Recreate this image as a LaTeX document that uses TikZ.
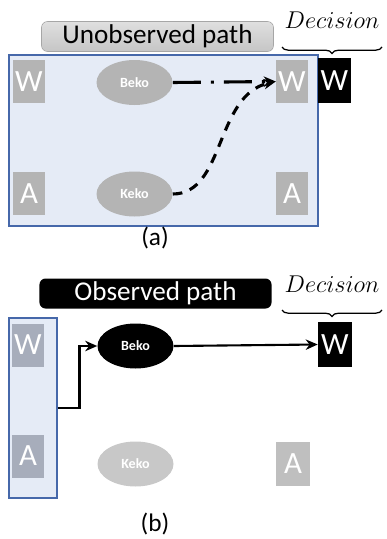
\documentclass[tikz,border=0pt]{standalone}
\usepackage{fontspec}
\setmainfont{Carlito}
\usepackage{tikz}
\usetikzlibrary{positioning,shapes.geometric,arrows.meta,decorations.pathreplacing}
\usepackage{xcolor}

\definecolor{boxgray}{RGB}{180,180,180}
\definecolor{dimgray}{RGB}{167,173,187}
\definecolor{palegray}{RGB}{200,200,200}
\definecolor{framefill}{RGB}{229,235,246}
\definecolor{frameline}{RGB}{70,104,170}

\begin{document}
\begin{tikzpicture}[x=0.25mm, y=-0.25mm,
    sq/.style={fill=boxgray, text=white, minimum width=8mm, minimum height=10.75mm,
        inner sep=0pt, font=\fontsize{22}{22}\selectfont},
    decbox/.style={sq, fill=black, minimum width=8.25mm, minimum height=11.25mm},
    agent/.style={ellipse, fill=boxgray, text=white, minimum width=19mm,
        minimum height=11.25mm, inner sep=0pt, font=\fontsize{10}{10}\selectfont\bfseries},
    frame/.style={draw=frameline, fill=framefill, line width=0.8pt},
    tag/.style={rounded corners=1.5mm, minimum width=58mm, minimum height=7.5mm,
        inner sep=0pt, font=\fontsize{19.3}{19}\selectfont},
    dec/.style={font=\fontsize{17.5}{17}\selectfont, inner sep=0pt},
    brace/.style={decorate, decoration={brace, amplitude=1.6mm}, line width=0.9pt},
    sub/.style={font=\fontsize{18}{18}\selectfont, inner sep=0pt},
    >={Stealth[length=3mm, width=2.6mm]}]
    \useasboundingbox (0,0) rectangle (386,539);

    % ---------- (a) unobserved path ----------
    \node[tag, draw=gray!70, top color=gray!25, bottom color=gray!45] (ulabel) at (157.5,36.5) {Unobserved path};
    \node[dec] (udec) at (332,20) {$Decision$};
    \coordinate (ubl) at (282,47);
    \coordinate (ubr) at (382,47);
    \draw[brace] (ubr) -- (ubl);

    % Frame
    \filldraw[frame] (9,55) rectangle (318,226);

    % Boxes and agents
    \node[sq] (uwl) at (29,81.5) {W};
    \node[sq] (ual) at (29,193.5) {A};
    \node[agent] (ubeko) at (134.5,82.5) {Beko};
    \node[agent] (ukeko) at (134.5,194) {Keko};
    \node[sq] (uwr) at (292,81.5) {W};
    \node[sq] (uar) at (292,193.5) {A};
    \node[decbox] (udw) at (334.5,80.5) {W};

    % Paths
    \draw[->, line width=2.2pt, dash pattern=on 7mm off 2.5mm on 0.8mm off 2.5mm]
        (ubeko.east) -- (uwr.west);
    \draw[->, line width=2.2pt, dash pattern=on 2.4mm off 2mm]
        (ukeko.east) .. controls (225,194) and (215,95) .. (uwr.west);

    \node[sub] (suba) at (155,238) {(a)};

    % ---------- (b) observed path ----------
    \node[tag, fill=black, text=white] (olabel) at (155.5,293.5) {Observed path};
    \node[dec] (odec) at (332,284) {$Decision$};
    \coordinate (obl) at (282,310);
    \coordinate (obr) at (382,310);
    \draw[brace] (obr) -- (obl);

    % Frame
    \node[frame, minimum width=12mm, minimum height=45mm, inner sep=0pt] (oframe) at (33,408) {};

    % Boxes and agents
    \node[sq, fill=dimgray] (owl) at (28,345) {W};
    \node[sq, fill=dimgray] (oal) at (28,456) {A};
    \node[agent, fill=black] (obeko) at (135.5,346) {Beko};
    \node[agent, fill=palegray] (okeko) at (135.5,464) {Keko};
    \node[sq, fill=gray!50, minimum width=8.5mm, minimum height=11mm] (oar) at (293,464) {A};
    \node[decbox, minimum width=8.5mm] (odw) at (335,344.5) {W};

    % Paths
    \draw[->, line width=1.8pt] (oframe.east) -- ++(22,0) |- (obeko.west);
    \draw[->, line width=1.5pt] (obeko.east) -- (odw.west);

    \node[sub] (subb) at (155,524) {(b)};
\end{tikzpicture}
\end{document}
